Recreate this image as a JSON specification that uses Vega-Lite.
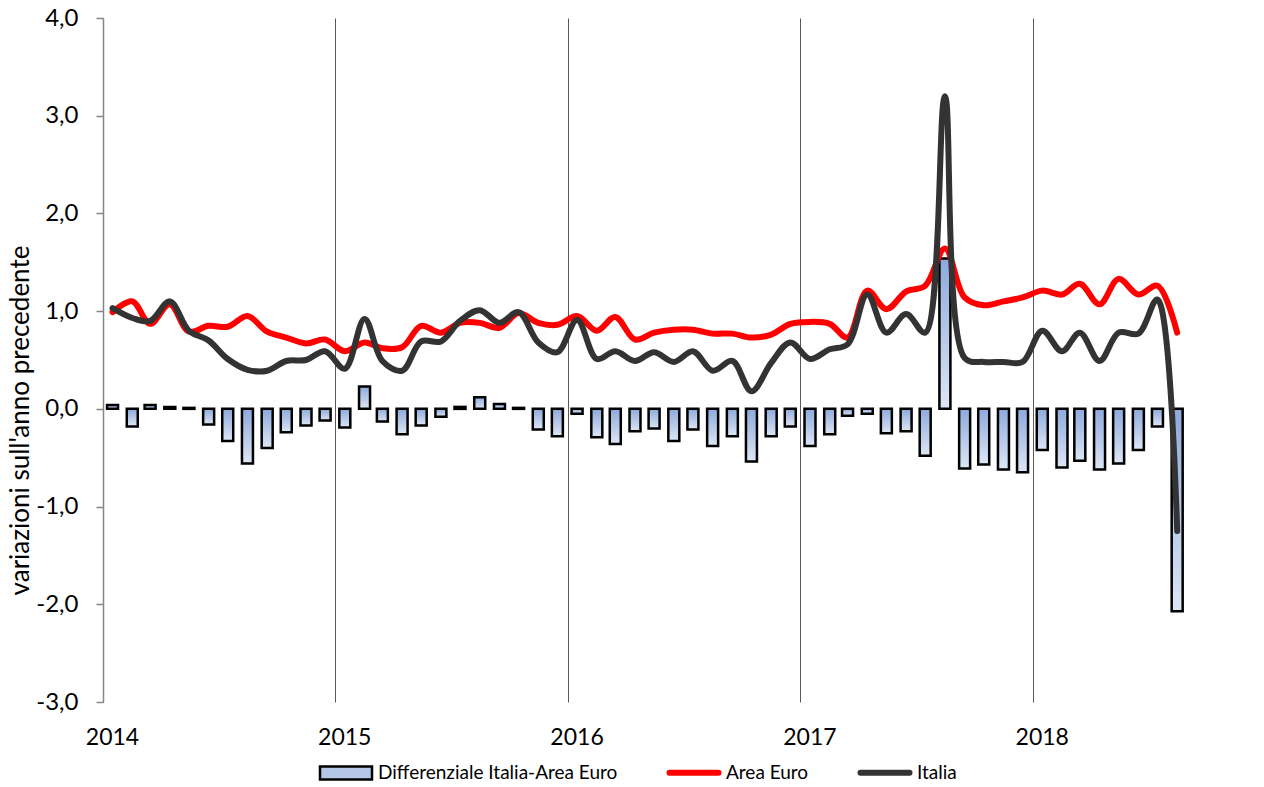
{
  "$schema": "https://vega.github.io/schema/vega-lite/v6.json",
  "width": 1162,
  "height": 684,
  "autosize": {"type": "none"},
  "padding": {"left": 103, "top": 18, "right": 0, "bottom": 85},
  "background": "white",
  "config": {"view": {"stroke": null}, "font": "Lato", "axis": {"labelFont": "Lato", "titleFont": "Lato"}, "legend": {"labelFont": "Lato"}},
  "datasets": {
    "bars": [
      {"date": "2014-01-16", "diff": 0.04}, {"date": "2014-02-16", "diff": -0.18}, {"date": "2014-03-16", "diff": 0.04}, {"date": "2014-04-16", "diff": 0.02},
      {"date": "2014-05-16", "diff": 0.01}, {"date": "2014-06-16", "diff": -0.16}, {"date": "2014-07-16", "diff": -0.33}, {"date": "2014-08-16", "diff": -0.56},
      {"date": "2014-09-16", "diff": -0.40}, {"date": "2014-10-16", "diff": -0.24}, {"date": "2014-11-16", "diff": -0.17}, {"date": "2014-12-16", "diff": -0.12},
      {"date": "2015-01-16", "diff": -0.19}, {"date": "2015-02-16", "diff": 0.23}, {"date": "2015-03-16", "diff": -0.13}, {"date": "2015-04-16", "diff": -0.26},
      {"date": "2015-05-16", "diff": -0.17}, {"date": "2015-06-16", "diff": -0.08}, {"date": "2015-07-16", "diff": 0.02}, {"date": "2015-08-16", "diff": 0.12},
      {"date": "2015-09-16", "diff": 0.05}, {"date": "2015-10-16", "diff": 0.01}, {"date": "2015-11-16", "diff": -0.21}, {"date": "2015-12-16", "diff": -0.28},
      {"date": "2016-01-16", "diff": -0.05}, {"date": "2016-02-16", "diff": -0.29}, {"date": "2016-03-16", "diff": -0.36}, {"date": "2016-04-16", "diff": -0.23},
      {"date": "2016-05-16", "diff": -0.20}, {"date": "2016-06-16", "diff": -0.33}, {"date": "2016-07-16", "diff": -0.21}, {"date": "2016-08-16", "diff": -0.38},
      {"date": "2016-09-16", "diff": -0.28}, {"date": "2016-10-16", "diff": -0.54}, {"date": "2016-11-16", "diff": -0.28}, {"date": "2016-12-16", "diff": -0.18},
      {"date": "2017-01-16", "diff": -0.38}, {"date": "2017-02-16", "diff": -0.26}, {"date": "2017-03-16", "diff": -0.07}, {"date": "2017-04-16", "diff": -0.05},
      {"date": "2017-05-16", "diff": -0.25}, {"date": "2017-06-16", "diff": -0.23}, {"date": "2017-07-16", "diff": -0.48}, {"date": "2017-08-16", "diff": 1.54},
      {"date": "2017-09-16", "diff": -0.61}, {"date": "2017-10-16", "diff": -0.57}, {"date": "2017-11-16", "diff": -0.62}, {"date": "2017-12-16", "diff": -0.65},
      {"date": "2018-01-16", "diff": -0.42}, {"date": "2018-02-16", "diff": -0.60}, {"date": "2018-03-16", "diff": -0.53}, {"date": "2018-04-16", "diff": -0.62},
      {"date": "2018-05-16", "diff": -0.56}, {"date": "2018-06-16", "diff": -0.42}, {"date": "2018-07-16", "diff": -0.18}, {"date": "2018-08-16", "diff": -2.07}
    ],
    "lines": [
      {"date": "2014-01-16", "serie": "Area Euro", "value": 0.99}, {"date": "2014-02-16", "serie": "Area Euro", "value": 1.10}, {"date": "2014-03-16", "serie": "Area Euro", "value": 0.87}, {"date": "2014-04-16", "serie": "Area Euro", "value": 1.07},
      {"date": "2014-05-16", "serie": "Area Euro", "value": 0.79}, {"date": "2014-06-16", "serie": "Area Euro", "value": 0.85}, {"date": "2014-07-16", "serie": "Area Euro", "value": 0.84}, {"date": "2014-08-16", "serie": "Area Euro", "value": 0.95},
      {"date": "2014-09-16", "serie": "Area Euro", "value": 0.79}, {"date": "2014-10-16", "serie": "Area Euro", "value": 0.73}, {"date": "2014-11-16", "serie": "Area Euro", "value": 0.67}, {"date": "2014-12-16", "serie": "Area Euro", "value": 0.71},
      {"date": "2015-01-16", "serie": "Area Euro", "value": 0.59}, {"date": "2015-02-16", "serie": "Area Euro", "value": 0.68}, {"date": "2015-03-16", "serie": "Area Euro", "value": 0.62}, {"date": "2015-04-16", "serie": "Area Euro", "value": 0.63},
      {"date": "2015-05-16", "serie": "Area Euro", "value": 0.85}, {"date": "2015-06-16", "serie": "Area Euro", "value": 0.78}, {"date": "2015-07-16", "serie": "Area Euro", "value": 0.88}, {"date": "2015-08-16", "serie": "Area Euro", "value": 0.88},
      {"date": "2015-09-16", "serie": "Area Euro", "value": 0.83}, {"date": "2015-10-16", "serie": "Area Euro", "value": 0.98}, {"date": "2015-11-16", "serie": "Area Euro", "value": 0.88}, {"date": "2015-12-16", "serie": "Area Euro", "value": 0.86},
      {"date": "2016-01-16", "serie": "Area Euro", "value": 0.95}, {"date": "2016-02-16", "serie": "Area Euro", "value": 0.80}, {"date": "2016-03-16", "serie": "Area Euro", "value": 0.94}, {"date": "2016-04-16", "serie": "Area Euro", "value": 0.71},
      {"date": "2016-05-16", "serie": "Area Euro", "value": 0.78}, {"date": "2016-06-16", "serie": "Area Euro", "value": 0.81}, {"date": "2016-07-16", "serie": "Area Euro", "value": 0.81}, {"date": "2016-08-16", "serie": "Area Euro", "value": 0.77},
      {"date": "2016-09-16", "serie": "Area Euro", "value": 0.77}, {"date": "2016-10-16", "serie": "Area Euro", "value": 0.73}, {"date": "2016-11-16", "serie": "Area Euro", "value": 0.76}, {"date": "2016-12-16", "serie": "Area Euro", "value": 0.87},
      {"date": "2017-01-16", "serie": "Area Euro", "value": 0.89}, {"date": "2017-02-16", "serie": "Area Euro", "value": 0.87}, {"date": "2017-03-16", "serie": "Area Euro", "value": 0.73}, {"date": "2017-04-16", "serie": "Area Euro", "value": 1.21},
      {"date": "2017-05-16", "serie": "Area Euro", "value": 1.02}, {"date": "2017-06-16", "serie": "Area Euro", "value": 1.20}, {"date": "2017-07-16", "serie": "Area Euro", "value": 1.26}, {"date": "2017-08-16", "serie": "Area Euro", "value": 1.64},
      {"date": "2017-09-16", "serie": "Area Euro", "value": 1.14}, {"date": "2017-10-16", "serie": "Area Euro", "value": 1.06}, {"date": "2017-11-16", "serie": "Area Euro", "value": 1.10}, {"date": "2017-12-16", "serie": "Area Euro", "value": 1.14},
      {"date": "2018-01-16", "serie": "Area Euro", "value": 1.21}, {"date": "2018-02-16", "serie": "Area Euro", "value": 1.17}, {"date": "2018-03-16", "serie": "Area Euro", "value": 1.28}, {"date": "2018-04-16", "serie": "Area Euro", "value": 1.07},
      {"date": "2018-05-16", "serie": "Area Euro", "value": 1.33}, {"date": "2018-06-16", "serie": "Area Euro", "value": 1.17}, {"date": "2018-07-16", "serie": "Area Euro", "value": 1.26}, {"date": "2018-08-16", "serie": "Area Euro", "value": 0.78},
      {"date": "2014-01-16", "serie": "Italia", "value": 1.03}, {"date": "2014-02-16", "serie": "Italia", "value": 0.93}, {"date": "2014-03-16", "serie": "Italia", "value": 0.90}, {"date": "2014-04-16", "serie": "Italia", "value": 1.10},
      {"date": "2014-05-16", "serie": "Italia", "value": 0.80}, {"date": "2014-06-16", "serie": "Italia", "value": 0.70}, {"date": "2014-07-16", "serie": "Italia", "value": 0.51}, {"date": "2014-08-16", "serie": "Italia", "value": 0.40},
      {"date": "2014-09-16", "serie": "Italia", "value": 0.39}, {"date": "2014-10-16", "serie": "Italia", "value": 0.49}, {"date": "2014-11-16", "serie": "Italia", "value": 0.50}, {"date": "2014-12-16", "serie": "Italia", "value": 0.59},
      {"date": "2015-01-16", "serie": "Italia", "value": 0.41}, {"date": "2015-02-16", "serie": "Italia", "value": 0.92}, {"date": "2015-03-16", "serie": "Italia", "value": 0.49}, {"date": "2015-04-16", "serie": "Italia", "value": 0.39},
      {"date": "2015-05-16", "serie": "Italia", "value": 0.69}, {"date": "2015-06-16", "serie": "Italia", "value": 0.69}, {"date": "2015-07-16", "serie": "Italia", "value": 0.90}, {"date": "2015-08-16", "serie": "Italia", "value": 1.01},
      {"date": "2015-09-16", "serie": "Italia", "value": 0.88}, {"date": "2015-10-16", "serie": "Italia", "value": 0.99}, {"date": "2015-11-16", "serie": "Italia", "value": 0.68}, {"date": "2015-12-16", "serie": "Italia", "value": 0.58},
      {"date": "2016-01-16", "serie": "Italia", "value": 0.91}, {"date": "2016-02-16", "serie": "Italia", "value": 0.51}, {"date": "2016-03-16", "serie": "Italia", "value": 0.59}, {"date": "2016-04-16", "serie": "Italia", "value": 0.49},
      {"date": "2016-05-16", "serie": "Italia", "value": 0.58}, {"date": "2016-06-16", "serie": "Italia", "value": 0.48}, {"date": "2016-07-16", "serie": "Italia", "value": 0.59}, {"date": "2016-08-16", "serie": "Italia", "value": 0.39},
      {"date": "2016-09-16", "serie": "Italia", "value": 0.49}, {"date": "2016-10-16", "serie": "Italia", "value": 0.18}, {"date": "2016-11-16", "serie": "Italia", "value": 0.47}, {"date": "2016-12-16", "serie": "Italia", "value": 0.68},
      {"date": "2017-01-16", "serie": "Italia", "value": 0.51}, {"date": "2017-02-16", "serie": "Italia", "value": 0.61}, {"date": "2017-03-16", "serie": "Italia", "value": 0.66}, {"date": "2017-04-16", "serie": "Italia", "value": 1.17},
      {"date": "2017-05-16", "serie": "Italia", "value": 0.78}, {"date": "2017-06-16", "serie": "Italia", "value": 0.97}, {"date": "2017-07-16", "serie": "Italia", "value": 0.78}, {"date": "2017-08-16", "serie": "Italia", "value": 3.20},
      {"date": "2017-09-16", "serie": "Italia", "value": 0.52}, {"date": "2017-10-16", "serie": "Italia", "value": 0.48}, {"date": "2017-11-16", "serie": "Italia", "value": 0.48}, {"date": "2017-12-16", "serie": "Italia", "value": 0.48},
      {"date": "2018-01-16", "serie": "Italia", "value": 0.80}, {"date": "2018-02-16", "serie": "Italia", "value": 0.59}, {"date": "2018-03-16", "serie": "Italia", "value": 0.78}, {"date": "2018-04-16", "serie": "Italia", "value": 0.49},
      {"date": "2018-05-16", "serie": "Italia", "value": 0.78}, {"date": "2018-06-16", "serie": "Italia", "value": 0.77}, {"date": "2018-07-16", "serie": "Italia", "value": 1.12}, {"date": "2018-08-16", "serie": "Italia", "value": -1.25}
    ]
  },
  "layer": [
    {
      "data": {"name": "bars"},
      "mark": {
        "type": "bar",
        "width": 11,
        "fill": {"gradient": "linear", "x1": 0, "y1": 0, "x2": 0, "y2": 1, "stops": [{"offset": 0, "color": "#8EAADB"}, {"offset": 1, "color": "#DDE6F5"}]},
        "stroke": "black",
        "strokeWidth": 2.5
      },
      "encoding": {
        "x": {
          "field": "date", "type": "temporal",
          "scale": {"type": "utc", "padding": 0, "domain": [{"year": 2014, "month": 1, "date": 1, "utc": true}, {"year": 2019, "month": 1, "date": 1, "utc": true}]},
          "axis": {
            "title": null,
            "values": [{"year": 2014, "month": 1, "date": 1, "utc": true}, {"year": 2015, "month": 1, "date": 1, "utc": true}, {"year": 2016, "month": 1, "date": 1, "utc": true}, {"year": 2017, "month": 1, "date": 1, "utc": true}, {"year": 2018, "month": 1, "date": 1, "utc": true}],
            "labelExpr": "utcFormat(datum.value, '%Y')",
            "domain": false, "ticks": false, "tickSize": 0,
            "grid": true, "gridColor": "#595959", "gridWidth": 1, "gridOpacity": 1,
            "labelFontSize": 23, "labelColor": "#000000", "labelPadding": 24, "labelOffset": 9, "labelFlush": false
          }
        },
        "y": {
          "field": "diff", "type": "quantitative",
          "scale": {"domain": [-3, 4], "nice": false, "zero": false, "padding": 0},
          "axis": {
            "title": "variazioni sull'anno precedente",
            "values": [-3, -2, -1, 0, 1, 2, 3, 4],
            "labelExpr": "(datum.value < 0 ? '-' : '') + replace(format(abs(datum.value), '.1f'), '.', ',')",
            "grid": false,
            "domainColor": "#868686", "domainWidth": 1.5, "tickColor": "#868686", "tickWidth": 1.5, "tickSize": 7,
            "labelFontSize": 24, "labelColor": "#000000", "labelPadding": 18,
            "titleFontSize": 26, "titleFontWeight": "normal", "titleColor": "#000000",
            "titleX": -83, "titleY": 402, "titleAngle": 270, "titleAlign": "center", "titleBaseline": "middle"
          }
        }
      }
    },
    {
      "mark": {"type": "rule", "color": "#333333", "strokeWidth": 1},
      "encoding": {"y": {"datum": 0}}
    },
    {
      "data": {"name": "lines"},
      "mark": {"type": "line", "interpolate": "catmull-rom", "strokeWidth": 6, "strokeCap": "round", "strokeJoin": "round"},
      "encoding": {
        "x": {"field": "date", "type": "temporal"},
        "y": {"field": "value", "type": "quantitative"},
        "color": {
          "field": "serie", "type": "nominal",
          "scale": {"domain": ["Differenziale Italia-Area Euro", "Area Euro", "Italia"], "range": ["#000000", "#FF0000", "#333333"]},
          "legend": {
            "title": null, "orient": "none", "legendX": 217, "legendY": 745, "direction": "horizontal",
            "symbolType": "stroke", "symbolSize": 2704, "symbolStrokeWidth": 6,
            "labelFontSize": 19, "labelColor": "#000000", "labelOffset": 5, "labelLimit": 0, "columnPadding": 39,
            "encode": {
              "symbols": {
                "update": {
                  "x": {"value": 26},
                  "shape": {"signal": "datum.value === 'Differenziale Italia-Area Euro' ? 'M-1,-0.25H1V0.25H-1Z' : 'stroke'"},
                  "fill": {"signal": "datum.value === 'Differenziale Italia-Area Euro' ? '#B4C7E7' : 'transparent'"},
                  "strokeWidth": {"signal": "datum.value === 'Differenziale Italia-Area Euro' ? 2.5 : 6"},
                  "size": {"signal": "datum.value === 'Differenziale Italia-Area Euro' ? 2704 : 2401"},
                  "strokeCap": {"value": "round"}
                }
              },
              "labels": {
                "update": {"x": {"value": 58}}
              }
            }
          }
        }
      }
    }
  ]
}
